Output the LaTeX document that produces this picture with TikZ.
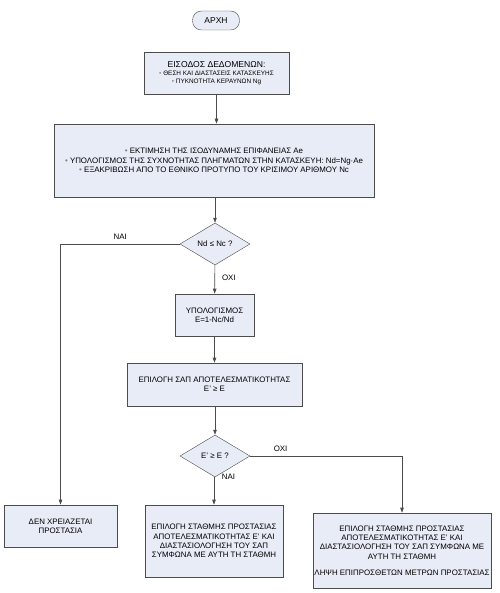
\documentclass[tikz,border=0pt]{standalone}
\usepackage{fontspec}
\setmainfont{Liberation Sans}
\usepackage{tikz}
\usetikzlibrary{positioning,arrows.meta,shapes.geometric}
\definecolor{myblue}{RGB}{232,236,246}
\definecolor{mygray}{gray}{0.3}

\begin{document}
\begin{tikzpicture}[x=1pt,y=-1pt]
    \tikzstyle{every node}=[font=\fontsize{7.9}{9.3}\selectfont,align=center,
                            inner sep=1pt]
    \tikzstyle{stepbox}=[draw=mygray,fill=myblue,rectangle,line width=0.6pt]
    \tikzstyle{question}=[draw=mygray,fill=myblue,diamond,aspect=1.7,
                          inner sep=0pt,minimum width=70pt,minimum height=42pt]
    \tikzstyle{flow}=[draw=mygray,line width=0.6pt,-{Triangle[length=5pt,width=3.5pt]}]

    \useasboundingbox (0,0) rectangle (499,593);

    % start of the flow
    \node (start) [draw=black!70,fill=myblue,rounded corners=9pt,
                   minimum width=47pt,minimum height=19pt,
                   font=\fontsize{8.5}{10}\selectfont] at (216,20.5) {ΑΡΧΗ};

    % the data
    \node (input) [stepbox,line width=0.9pt,minimum width=145pt,minimum height=42pt]
        at (216.5,73) {{\fontsize{8.6}{10}\selectfont ΕΙΣΟΔΟΣ ΔΕΔΟΜΕΝΩΝ:}\\[-1pt]
        {\fontsize{6.4}{7.6}\selectfont \textcolor{gray}{•} ΘΕΣΗ ΚΑΙ ΔΙΑΣΤΑΣΕΙΣ ΚΑΤΑΣΚΕΥΗΣ}\\[-1pt]
        {\fontsize{6.4}{7.6}\selectfont \textcolor{gray}{•} ΠΥΚΝΟΤΗΤΑ ΚΕΡΑΥΝΩΝ Ng}};

    \node (estim) [stepbox,minimum width=318pt,minimum height=73pt]
        at (214,160.5) {\raisebox{6pt}{\parbox{318pt}{\centering
        \textcolor{gray}{•} ΕΚΤΙΜΗΣΗ ΤΗΣ ΙΣΟΔΥΝΑΜΗΣ ΕΠΙΦΑΝΕΙΑΣ Ae\\
        \textcolor{gray}{•} ΥΠΟΛΟΓΙΣΜΟΣ ΤΗΣ ΣΥΧΝΟΤΗΤΑΣ ΠΛΗΓΜΑΤΩΝ ΣΤΗΝ ΚΑΤΑΣΚΕΥΗ: Nd=Ng·Ae\\
        \textcolor{gray}{•} ΕΞΑΚΡΙΒΩΣΗ ΑΠΟ ΤΟ ΕΘΝΙΚΟ ΠΡΟΤΥΠΟ ΤΟΥ ΚΡΙΣΙΜΟΥ ΑΡΙΘΜΟΥ Nc}}};

    \node (q1) [question] at (215,244) {Nd ≤ Nc ?};

    \node (calc) [stepbox,minimum width=79pt,minimum height=42pt]
        at (214.5,315) {ΥΠΟΛΟΓΙΣΜΟΣ\\E=1-Nc/Nd};

    \node (choose) [stepbox,minimum width=175pt,minimum height=43pt]
        at (214.5,384.5) {ΕΠΙΛΟΓΗ ΣΑΠ ΑΠΟΤΕΛΕΣΜΑΤΙΚΟΤΗΤΑΣ\\E' ≥ E};

    \node (q2) [question] at (215,456) {E' ≥ E ?};

    % the three ends
    \node (none) [stepbox,minimum width=113pt,minimum height=42pt]
        at (60.5,526) {ΔΕΝ ΧΡΕΙΑΖΕΤΑΙ\\ΠΡΟΣΤΑΣΙΑ};

    \node (level) [stepbox,minimum width=138pt,minimum height=72pt]
        at (214,541) {ΕΠΙΛΟΓΗ ΣΤΑΘΜΗΣ ΠΡΟΣΤΑΣΙΑΣ\\
        ΑΠΟΤΕΛΕΣΜΑΤΙΚΟΤΗΤΑΣ E' ΚΑΙ\\
        ΔΙΑΣΤΑΣΙΟΛΟΓΗΣΗ ΤΟΥ ΣΑΠ\\
        ΣΥΜΦΩΝΑ ΜΕ ΑΥΤΗ ΤΗ ΣΤΑΘΜΗ};

    \node (extra) [stepbox,minimum width=178pt,minimum height=75pt]
        at (402,550.5) {ΕΠΙΛΟΓΗ ΣΤΑΘΜΗΣ ΠΡΟΣΤΑΣΙΑΣ\\
        ΑΠΟΤΕΛΕΣΜΑΤΙΚΟΤΗΤΑΣ E' ΚΑΙ\\
        ΔΙΑΣΤΑΣΙΟΛΟΓΗΣΗ ΤΟΥ ΣΑΠ ΣΥΜΦΩΝΑ ΜΕ\\
        ΑΥΤΗ ΤΗ ΣΤΑΘΜΗ\\[7pt]
        ΛΗΨΗ ΕΠΙΠΡΟΣΘΕΤΩΝ ΜΕΤΡΩΝ ΠΡΟΣΤΑΣΙΑΣ};

    % connectors
    \draw [flow] (input) -- (input |- estim.north);
    \draw [flow] (estim.south -| q1) -- (q1.north);
    \draw [flow] (q1) -- node [right=6pt,pos=0.45] {ΟΧΙ} (calc);
    \draw [flow] (calc.south -| choose) -- (choose);
    \draw [flow] (choose.south -| q2) -- (q2.north);
    \draw [flow] (q1.west) -- node [above=3pt,pos=0.5] {ΝΑΙ} (q1.west -| none) -- (none);
    \draw [flow] (q2.south) -- node [right=6pt,pos=0.4] {ΝΑΙ} (q2.south -| level) -- (level);
    \draw [flow] (q2.east) -- node [above=3pt,pos=0.2] {ΟΧΙ} (q2.east -| extra) -- (extra);
\end{tikzpicture}
\end{document}
